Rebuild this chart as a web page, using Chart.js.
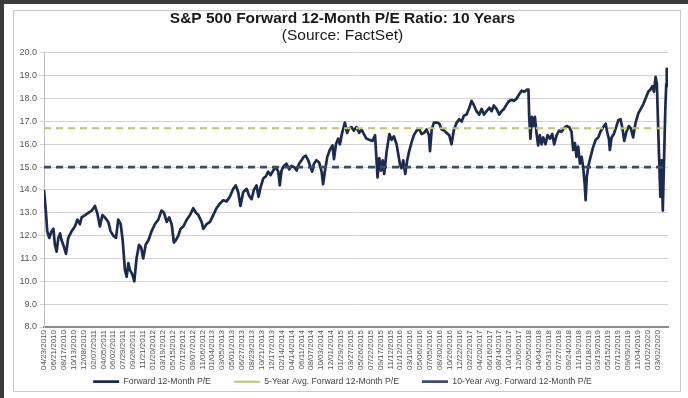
<!DOCTYPE html>
<html>
<head>
<meta charset="utf-8">
<script src="https://cdn.jsdelivr.net/npm/chart.js@4/dist/chart.umd.min.js"></script>
<style>
  html, body { margin: 0; padding: 0; background: #fff; }
  body { width: 688px; height: 398px; position: relative; overflow: hidden; }
  .edge-top { position: absolute; left: 0; top: 0; width: 688px; height: 4px; background: #3a3a3a; }
  .edge-left { position: absolute; left: 0; top: 0; width: 4px; height: 398px; background: #3a3a3a; }
  .frame { position: absolute; left: 13px; top: 10px; width: 666px; height: 380px; border: 1px solid #c8c8c8; }
  #chart { position: absolute; left: 0; top: 0; }
</style>
</head>
<body>
<div class="edge-top"></div>
<div class="edge-left"></div>
<div class="frame"></div>
<canvas id="chart" width="688" height="398"></canvas>
<script>
// Tick labels on the x axis, one every 40 trading days
const tickLabels = [
    "04/23/2010", "06/21/2010", "08/17/2010", "10/13/2010", "12/08/2010",
    "02/07/2011", "04/05/2011", "06/02/2011", "07/29/2011", "09/26/2011", "11/21/2011",
    "01/20/2012", "03/19/2012", "05/15/2012", "07/12/2012", "09/07/2012", "11/06/2012",
    "01/04/2013", "03/05/2013", "05/01/2013", "06/27/2013", "08/23/2013", "10/21/2013", "12/17/2013",
    "02/14/2014", "04/14/2014", "06/11/2014", "08/07/2014", "10/03/2014", "12/01/2014",
    "01/29/2015", "03/27/2015", "05/26/2015", "07/22/2015", "09/17/2015", "11/12/2015",
    "01/12/2016", "03/10/2016", "05/06/2016", "07/05/2016", "08/30/2016", "10/26/2016", "12/22/2016",
    "02/22/2017", "04/20/2017", "06/16/2017", "08/14/2017", "10/10/2017", "12/06/2017",
    "02/05/2018", "04/04/2018", "05/31/2018", "07/27/2018", "09/24/2018", "11/19/2018",
    "01/18/2019", "03/19/2019", "05/15/2019", "07/12/2019", "09/09/2019", "11/04/2019",
    "01/02/2020", "03/02/2020"
];
const daysPerLabel = 40;
const lastDay = 2522;

// Forward P/E readings: trading day since 04/23/2010 and value
const peDays = [
    0, 8, 13, 21, 31, 38, 44, 51, 58, 65, 71, 81, 89, 98, 112, 125, 135, 145, 152, 166,
    179, 193, 206, 215, 226, 236, 246, 260, 269, 280, 291, 300, 310, 318, 327, 334, 341, 347, 357, 365,
    374, 384, 392, 401, 411, 422, 435, 448, 462, 475, 485, 496, 506, 516, 525, 533, 543, 552, 563, 577,
    590, 603, 614, 624, 637, 644, 657, 671, 684, 697, 711, 724, 738, 751, 765, 775, 785, 794, 805, 819,
    829, 839, 848, 859, 867, 875, 886, 897, 906, 916, 926, 937, 947, 953, 960, 969, 980, 991, 1000, 1011,
    1021, 1031, 1041, 1050, 1058, 1068, 1077, 1084, 1091, 1101, 1112, 1122, 1128, 1135, 1145, 1155, 1166, 1172, 1180, 1189,
    1196, 1205, 1216, 1225, 1233, 1243, 1252, 1263, 1274, 1283, 1293, 1303, 1314, 1328, 1338, 1344, 1348, 1355, 1362, 1369,
    1375, 1385, 1396, 1405, 1414, 1425, 1432, 1439, 1445, 1452, 1460, 1468, 1476, 1486, 1495, 1506, 1517, 1526, 1536, 1546,
    1556, 1560, 1567, 1576, 1587, 1598, 1607, 1617, 1627, 1638, 1647, 1657, 1668, 1678, 1688, 1697, 1708, 1719, 1728, 1738,
    1748, 1759, 1769, 1778, 1789, 1800, 1809, 1818, 1829, 1840, 1849, 1859, 1870, 1880, 1890, 1899, 1910, 1921, 1931, 1942,
    1953, 1958, 1961, 1966, 1972, 1977, 1984, 1991, 1997, 2004, 2011, 2018, 2027, 2035, 2045, 2054, 2062, 2072, 2082, 2092,
    2101, 2112, 2123, 2132, 2139, 2146, 2152, 2159, 2166, 2173, 2179, 2185, 2189, 2194, 2201, 2209, 2220, 2230, 2240, 2249,
    2260, 2270, 2276, 2283, 2287, 2294, 2303, 2311, 2321, 2330, 2338, 2345, 2354, 2364, 2372, 2381, 2391, 2402, 2412, 2422,
    2433, 2442, 2451, 2459, 2465, 2472, 2477, 2481, 2485, 2491, 2496, 2501, 2507, 2511, 2515, 2517, 2520
];
const peValues = [
    14.0, 13.0, 12.2, 11.9, 12.2, 12.3, 11.6, 11.3, 11.9, 12.1, 11.8, 11.5, 11.2, 11.9, 12.2, 12.4, 12.7, 12.5, 12.8, 12.9,
    13.0, 13.1, 13.3, 13.0, 12.4, 12.9, 12.8, 12.6, 12.2, 12.0, 11.9, 12.7, 12.5, 11.8, 10.5, 10.2, 10.8, 10.5, 10.3, 10.0,
    11.0, 11.6, 11.5, 11.0, 11.6, 11.8, 12.2, 12.5, 12.7, 13.1, 13.0, 12.6, 12.8, 12.5, 11.7, 11.8, 12.0, 12.3, 12.4, 12.7,
    12.9, 13.2, 13.0, 12.9, 12.6, 12.3, 12.5, 12.6, 12.9, 13.2, 13.4, 13.55, 13.5, 13.7, 14.05, 14.2, 13.9, 13.3, 13.9, 14.05,
    13.75, 13.6, 14.0, 14.2, 13.7, 14.1, 14.5, 14.6, 14.8, 14.65, 14.85, 15.0, 14.8, 14.2, 14.85, 15.05, 15.15, 14.9, 15.05, 15.0,
    14.85, 15.15, 15.3, 15.45, 15.5, 15.3, 15.0, 14.8, 15.15, 15.3, 15.2, 14.8, 14.25, 14.8, 15.45, 15.75, 15.95, 15.35, 16.0, 16.25,
    16.0, 16.5, 16.95, 16.5, 16.7, 16.75, 16.6, 16.75, 16.5, 16.65, 16.45, 16.25, 16.2, 16.15, 16.4, 15.3, 14.55, 15.4, 14.85, 15.3,
    14.7, 15.7, 16.45, 16.2, 16.35, 16.0, 15.55, 15.1, 14.95, 15.3, 14.7, 15.3, 15.7, 16.1, 16.4, 16.6, 16.65, 16.45, 16.5, 16.65,
    16.4, 15.7, 16.65, 16.95, 16.95, 16.9, 16.65, 16.6, 16.5, 16.4, 16.0, 16.65, 16.95, 17.1, 17.0, 17.25, 17.3, 17.6, 17.9, 17.7,
    17.45, 17.3, 17.55, 17.3, 17.45, 17.6, 17.45, 17.7, 17.55, 17.3, 17.45, 17.55, 17.75, 17.9, 17.95, 17.9, 18.0, 18.2, 18.35, 18.3,
    18.4, 18.4, 17.2, 16.25, 17.2, 16.8, 17.2, 16.45, 15.95, 16.4, 16.0, 16.3, 16.0, 16.4, 16.25, 16.45, 16.0, 16.4, 16.6, 16.55,
    16.7, 16.8, 16.75, 16.55, 15.75, 16.05, 15.45, 15.9, 15.15, 15.45, 15.0, 14.3, 13.55, 14.6, 15.1, 15.45, 15.9, 16.2, 16.3, 16.55,
    16.75, 16.9, 16.55, 16.25, 15.75, 16.3, 16.45, 16.7, 17.05, 17.1, 16.7, 16.15, 16.55, 16.8, 16.7, 16.3, 16.95, 17.35, 17.55, 17.75,
    18.05, 18.3, 18.4, 18.55, 18.3, 18.95, 18.65, 17.2, 15.75, 13.7, 15.3, 13.1, 15.75, 17.5, 18.65, 19.3, 18.5
];

// Averages
const fiveYearAvg = 16.7;
const tenYearAvg = 15.0;

const seriesNames = [
    "Forward 12-Month P/E",
    "5-Year Avg. Forward 12-Month P/E",
    "10-Year Avg. Forward 12-Month P/E"
];

const fontFamily = "'Liberation Sans', Arial, sans-serif";

const flatLine = value => [{ x: 0, y: value }, { x: lastDay, y: value }];

// The date labels run down below the axis box, so give them room to draw
const tickRoom = {
    id: "tickRoom",
    afterLayout: chart => {
        const x = chart.scales.x;
        x.height = 46;
        x.bottom = x.top + 46;
    }
};

new Chart(document.getElementById("chart"), {
    type: "line",
    data: {
        datasets: [
            {
                label: seriesNames[0],
                data: peDays.map((d, i) => ({ x: d, y: peValues[i] })),
                borderColor: "#1c2a4f",
                backgroundColor: "#1c2a4f",
                borderWidth: 2.7,
                borderJoinStyle: "round",
                pointRadius: 0,
                order: 1
            },
            {
                label: seriesNames[1],
                data: flatLine(fiveYearAvg),
                borderColor: "#bac86e",
                backgroundColor: "#bac86e",
                borderWidth: 2,
                borderDash: [7, 5],
                pointRadius: 0,
                order: 0
            },
            {
                label: seriesNames[2],
                data: flatLine(tenYearAvg),
                borderColor: "#3d4b6a",
                backgroundColor: "#3d4b6a",
                borderWidth: 2.6,
                borderDash: [7, 5],
                pointRadius: 0,
                order: 0
            }
        ]
    },
    plugins: [tickRoom],
    options: {
        responsive: false,
        animation: false,
        devicePixelRatio: 1,
        layout: { padding: { left: 17, right: 20, top: 11, bottom: 2 } },
        scales: {
            x: {
                type: "linear",
                min: 0,
                max: lastDay,
                grid: { display: false, drawTicks: false },
                border: { display: true, color: "#8c8c8c", width: 2 },
                ticks: {
                    stepSize: daysPerLabel,
                    autoSkip: false,
                    minRotation: 90,
                    maxRotation: 90,
                    padding: 3,
                    color: "#555",
                    font: { family: fontFamily, size: 8 },
                    callback: value => {
                        const i = value / daysPerLabel;
                        return Number.isInteger(i) && tickLabels[i] ? tickLabels[i] : "";
                    }
                },
                afterFit: scale => { scale.height = 27.3; }
            },
            y: {
                min: 8,
                max: 20,
                grid: { color: "#d3d3d3", lineWidth: 1, tickLength: 4 },
                border: { display: true, color: "#bdbdbd", width: 1 },
                ticks: {
                    stepSize: 1,
                    padding: 3,
                    color: "#555",
                    font: { family: fontFamily, size: 9 },
                    callback: value => value.toFixed(1)
                },
                afterFit: scale => { scale.width = 27; }
            }
        },
        plugins: {
            title: {
                display: true,
                text: "S&P 500 Forward 12-Month P/E Ratio: 10 Years",
                color: "#1a1a1a",
                font: { family: fontFamily, size: 15.5, weight: "bold", lineHeight: 1.05 },
                padding: { top: 0, bottom: 0 }
            },
            subtitle: {
                display: true,
                text: "(Source: FactSet)",
                color: "#1a1a1a",
                font: { family: fontFamily, size: 15.5, lineHeight: 1.05 },
                padding: { top: 0, bottom: 9.4 }
            },
            legend: {
                position: "bottom",
                labels: {
                    usePointStyle: true,
                    pointStyle: "line",
                    pointStyleWidth: 26,
                    padding: 23,
                    color: "#444",
                    font: { family: fontFamily, size: 8.7 },
                    sort: (a, b) => a.datasetIndex - b.datasetIndex
                }
            },
            tooltip: { enabled: false }
        }
    }
});
</script>
</body>
</html>
